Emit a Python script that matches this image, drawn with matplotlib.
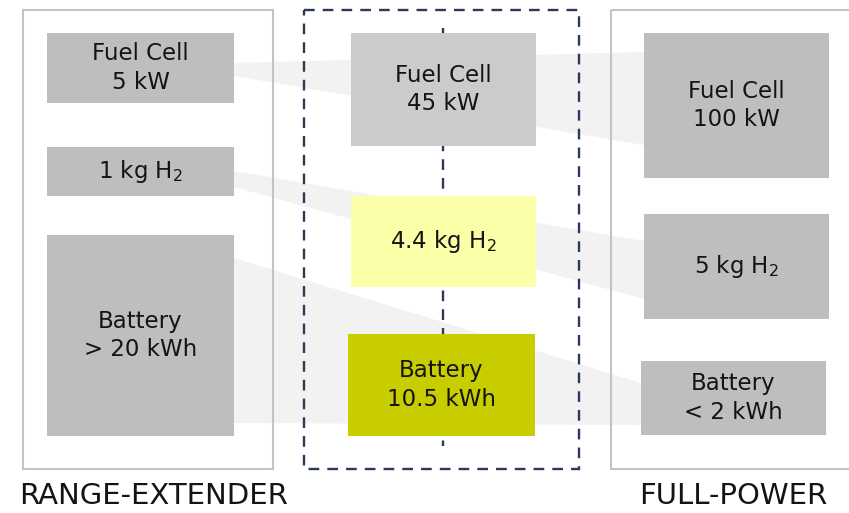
import matplotlib
matplotlib.use("Agg")
import matplotlib.pyplot as plt
from matplotlib.patches import Rectangle, Polygon

plt.rcParams['font.family'] = ['DejaVu Sans']
plt.rcParams['mathtext.fontset'] = 'dejavusans'
plt.rcParams['lines.scale_dashes'] = False

# ---- data ----
concepts = ["RANGE-EXTENDER", "", "FULL-POWER"]
components = ["Fuel Cell", "H2 tank", "Battery"]
range_ext_labels = ["Fuel Cell\n5 kW", "1 kg $\\mathregular{H_2}$", "Battery\n> 20 kWh"]
middle_labels = ["Fuel Cell\n45 kW", "4.4 kg $\\mathregular{H_2}$", "Battery\n10.5 kWh"]
full_power_labels = ["Fuel Cell\n100 kW", "5 kg $\\mathregular{H_2}$", "Battery\n< 2 kWh"]

# ---- layout (pixel space) ----
W, H = 849, 513
fig = plt.figure(figsize=(W / 100, H / 100), dpi=100)
ax = fig.add_axes([0, 0, 1, 1])
ax.set_xlim(0, W)
ax.set_ylim(H, 0)
ax.axis('off')

grey_box = '#bebebe'
band_col = '#f2f2f2'
outline = '#c3c3c3'
navy = '#2b3a5c'
txt = '#141414'

# boxes: (x0, y0, x1, y1)
left_boxes = [(47, 33, 234, 103), (47, 147, 234, 196), (47, 235, 234, 436)]
mid_boxes = [(351, 33, 536, 146), (351, 196, 536, 287), (348, 334, 535, 436)]
right_boxes = [(644, 33, 829, 178), (644, 214, 829, 319), (641, 361, 826, 435)]
mid_colors = ['#cbcbcb', '#fbffa8', '#c8cd00']

# connector bands (left-box edge y-range -> right-box edge y-range)
bands = [((63, 76), (52, 145)), ((171, 187), (241, 299)), ((258, 423), (383, 425))]

for i, ((ly0, ly1), (ry0, ry1)) in enumerate(bands):
    lx = left_boxes[i][2]
    rx = right_boxes[i][0]
    ax.add_patch(Polygon([(lx, ly0), (rx, ry0), (rx, ry1), (lx, ly1)],
                         closed=True, facecolor=band_col, edgecolor='none', zorder=1))

# panel outlines
ax.add_patch(Rectangle((23, 10), 250, 459, facecolor='none', edgecolor=outline,
                       lw=1.5, zorder=2))
ax.add_patch(Rectangle((611, 10), 250, 459, facecolor='none', edgecolor=outline,
                       lw=1.5, zorder=2))
# dashed middle panel
ax.add_patch(Rectangle((304, 10), 275, 459, facecolor='none', edgecolor=navy,
                       lw=1.7, linestyle=(0, (7.7, 5.8)), zorder=2))
# central dashed axis
ax.plot([443, 443], [28, 446], color=navy, lw=1.7, linestyle=(0, (7.7, 5.8)), zorder=2)

fs = 16.5


def draw_box(b, color, label):
    x0, y0, x1, y1 = b
    ax.add_patch(Rectangle((x0, y0), x1 - x0, y1 - y0, facecolor=color,
                           edgecolor='none', zorder=3))
    ax.text((x0 + x1) / 2, (y0 + y1) / 2, label, ha='center', va='center',
            fontsize=fs, color=txt, linespacing=1.33, zorder=4)


for b, lab in zip(left_boxes, range_ext_labels):
    draw_box(b, grey_box, lab)
for b, c, lab in zip(mid_boxes, mid_colors, middle_labels):
    draw_box(b, c, lab)
for b, lab in zip(right_boxes, full_power_labels):
    draw_box(b, grey_box, lab)

ax.text(154, 496, concepts[0], ha='center', va='center', fontsize=21, color=txt)
ax.text(733, 496, concepts[2], ha='center', va='center', fontsize=21, color=txt)

fig.savefig('out.png', dpi=100)
